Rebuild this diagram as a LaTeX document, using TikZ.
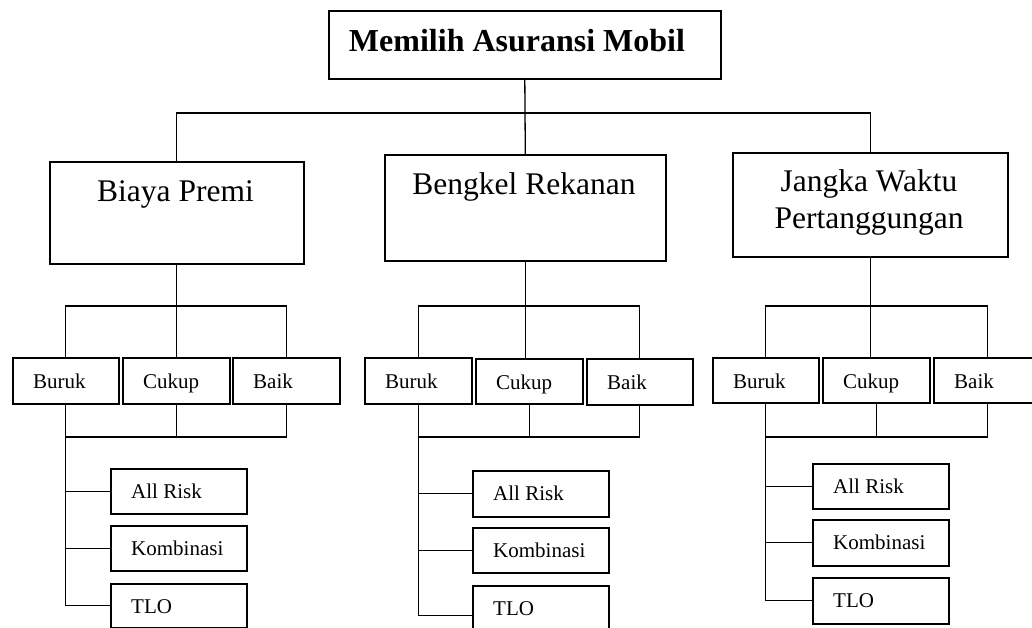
\documentclass[tikz,border=0pt]{standalone}
\usepackage{fontspec}
\setmainfont{Liberation Serif}
\usetikzlibrary{calc}
\newcommand\bx[5]{\node[box,minimum width={(#4)-(#2)},minimum height={(#5)-(#3)}] (#1) at (#2,#3) {};}
\begin{document}
\begin{tikzpicture}[x=1pt,y=-1pt,
  box/.style={draw, line width=1.6pt, inner sep=0pt, anchor=north west},
  conn/.style={line width=1.3pt},
  big/.style={font=\fontsize{31.5}{37}\selectfont, inner sep=0pt, anchor=base},
  small/.style={font=\fontsize{21}{25}\selectfont, inner sep=0pt, anchor=base west}]
\useasboundingbox (0,0) rectangle (1032,628);
\clip (0,0) rectangle (1032,628);

% top
\bx{T}{328}{10}{720}{78}
\node[big, font=\fontsize{32}{38}\selectfont\bfseries] (tT) at (517,52) {Memilih Asuransi Mobil};

% criteria
\bx{Bi}{49}{161}{303}{263}
\bx{Be}{384}{154}{665}{260}
\bx{J}{732}{152}{1007}{256}
\node[big] (tBi) at (175.5,202) {Biaya Premi};
\node[big] (tBe) at (524,195) {Bengkel Rekanan};
\node[big] (tJ1) at (869,192) {Jangka Waktu};
\node[big] (tJ2) at (869,229) {Pertanggungan};

\draw[conn] (Bi.north) -- (Bi.north |- 0,113) -- (J.north |- 0,113) -- (J.north);
\draw[conn] (T.south) -- (Be.north);

% group 1
\bx{A1}{12}{357}{118}{403}
\bx{B1}{122}{357}{229}{403}
\bx{C1}{232}{357}{339}{403}
\bx{R1}{110}{468}{246}{513}
\bx{K1}{110}{525}{246}{570}
\bx{L1}{110}{583}{246}{627}
% group 2
\bx{A2}{364}{357}{471}{403}
\bx{B2}{475}{358}{582}{403}
\bx{C2}{586}{358}{692}{404}
\bx{R2}{472}{470}{608}{516}
\bx{K2}{472}{527}{608}{572}
\bx{L2}{472}{585}{608}{645}
% group 3
\bx{A3}{712}{357}{818}{402}
\bx{B3}{822}{357}{929}{402}
\bx{C3}{933}{357}{1040}{402}
\bx{R3}{812}{463}{948}{508}
\bx{K3}{812}{519}{948}{565}
\bx{L3}{812}{577}{948}{623}

\foreach \g/\p in {1/Bi,2/Be,3/J}{
  \node[small] (ta\g) at ($(A\g.north west)+(21,31)$) {Buruk};
  \node[small] (tb\g) at ($(B\g.north west)+(21,31)$) {Cukup};
  \node[small] (tc\g) at ($(C\g.north west)+(21,31)$) {Baik};
  \node[small] (tr\g) at ($(R\g.north west)+(21,30)$) {All Risk};
  \node[small] (tk\g) at ($(K\g.north west)+(21,30)$) {Kombinasi};
  \node[small] (tl\g) at ($(L\g.north west)+(21,30)$) {TLO};
  \draw[conn] (\p.south) -- (\p.south |- B\g.north);
  \draw[conn] (A\g.north) -- (A\g.north |- 0,306) -- (C\g.north |- 0,306) -- (C\g.north);
  \draw[conn] (A\g.south) -- (A\g.south |- 0,437) -- (C\g.south |- 0,437) -- (C\g.south);
  \draw[conn] (B\g.south) -- (B\g.south |- 0,437);
  \draw[conn] (A\g.south) |- (L\g.west);
  \draw[conn] (A\g.south |- R\g.west) -- (R\g.west);
  \draw[conn] (A\g.south |- K\g.west) -- (K\g.west);
}
\end{tikzpicture}
\end{document}
